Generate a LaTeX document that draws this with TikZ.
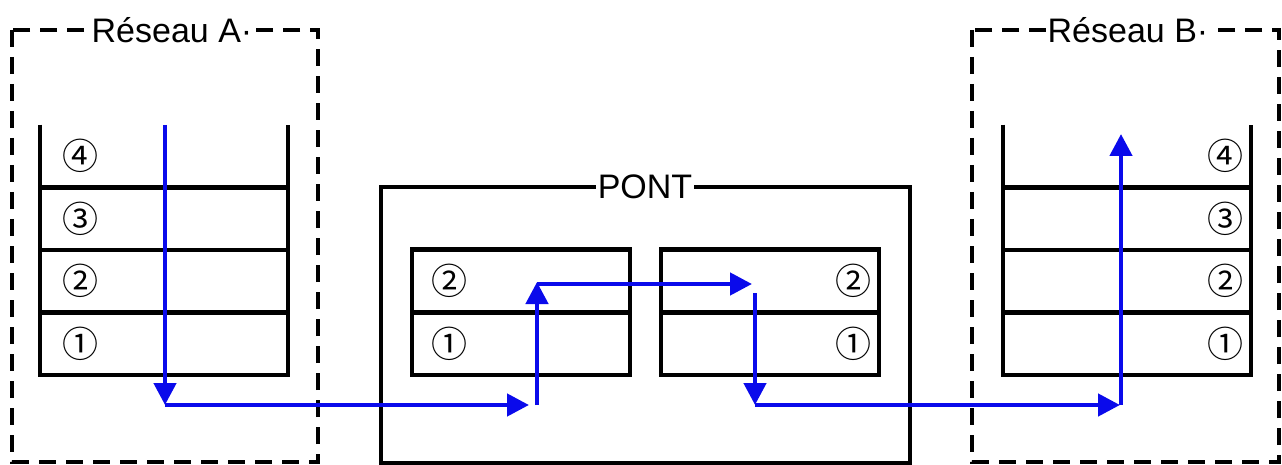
\documentclass[tikz,border=0pt]{standalone}
\usepackage{fontspec}
\setmainfont{Liberation Sans}
\newfontfamily\circfont{Noto Sans CJK SC}
\usetikzlibrary{arrows.meta}
\begin{document}
\begin{tikzpicture}[x=1pt,y=-1pt,
  netbox/.style={line width=4.5pt, dash pattern=on 17pt off 10pt},
  layerline/.style={line width=4.5pt},
  pontline/.style={line width=3.5pt},
  flow/.style={draw={rgb,255:red,10;green,10;blue,235}, line width=4.5pt, -{Triangle[length=22pt,width=22pt]}},
  titletext/.style={fill=white, inner sep=2pt, font=\fontsize{34}{38}\selectfont},
  num/.style={font=\circfont\fontsize{36}{38}\selectfont, inner sep=0pt},
  layer/.style={minimum width=248pt, minimum height=62.5pt, inner sep=0pt},
  sublayer/.style={minimum width=218pt, minimum height=62.5pt, inner sep=0pt}
]
\useasboundingbox (0,0) rectangle (1282,465);

% Reseau A
\draw[netbox] (12,30) rectangle (318,462);
\node[titletext] (tA) at (172,30) {Réseau A·};
\node[layer] (A4) at (164,156) {};
\node[layer] (A3) at (164,218.5) {};
\node[layer] (A2) at (164,281) {};
\node[layer] (A1) at (164,343.5) {};
\draw[layerline] (A4.north west) -- (A1.south west) -- (A1.south east) -- (A4.north east);
\draw[layerline] (A4.south west) -- (A4.south east);
\draw[layerline] (A3.south west) -- (A3.south east);
\draw[layerline] (A2.south west) -- (A2.south east);
\node[num] (nA4) at ([xshift=41pt]A4.west) {④};
\node[num] (nA3) at ([xshift=41pt]A3.west) {③};
\node[num] (nA2) at ([xshift=41pt]A2.west) {②};
\node[num] (nA1) at ([xshift=41pt]A1.west) {①};

% Reseau B
\draw[netbox] (972,30) rectangle (1279,462);
\node[titletext] (tB) at (1128,30) {Réseau B·};
\node[layer] (B4) at (1127,156) {};
\node[layer] (B3) at (1127,218.5) {};
\node[layer] (B2) at (1127,281) {};
\node[layer] (B1) at (1127,343.5) {};
\draw[layerline] (B4.north west) -- (B1.south west) -- (B1.south east) -- (B4.north east);
\draw[layerline] (B4.south west) -- (B4.south east);
\draw[layerline] (B3.south west) -- (B3.south east);
\draw[layerline] (B2.south west) -- (B2.south east);
\node[num] (nB4) at ([xshift=-26pt]B4.east) {④};
\node[num] (nB3) at ([xshift=-26pt]B3.east) {③};
\node[num] (nB2) at ([xshift=-26pt]B2.east) {②};
\node[num] (nB1) at ([xshift=-26pt]B1.east) {①};

% PONT
\draw[pontline] (381,187) rectangle (910,463);
\node[titletext] (tP) at (645,187) {PONT};
\node[sublayer] (L2) at (521,281) {};
\node[sublayer] (L1) at (521,343.5) {};
\node[sublayer] (R2) at (770,281) {};
\node[sublayer] (R1) at (770,343.5) {};
\draw[layerline] (L2.north west) rectangle (L1.south east);
\draw[layerline] (L2.south west) -- (L2.south east);
\draw[layerline] (R2.north west) rectangle (R1.south east);
\draw[layerline] (R2.south west) -- (R2.south east);
\node[num] (nL2) at ([xshift=38pt]L2.west) {②};
\node[num] (nL1) at ([xshift=38pt]L1.west) {①};
\node[num] (nR2) at ([xshift=-26pt]R2.east) {②};
\node[num] (nR1) at ([xshift=-26pt]R1.east) {①};

% flow
\coordinate (p1) at (165,125);
\coordinate (p2) at (165,405);
\coordinate (p3) at (529,405);
\coordinate (p4) at (537,405);
\coordinate (p5) at (537,282);
\coordinate (p6) at (537,284);
\coordinate (p7) at (752,284);
\coordinate (p8) at (755,293);
\coordinate (p9) at (755,405);
\coordinate (p10) at (1120,405);
\coordinate (p11) at (1121,405);
\coordinate (p12) at (1121,134);
\draw[flow] (p1) -- (p2);
\draw[flow] (p2) -- (p3);
\draw[flow] (p4) -- (p5);
\draw[flow] (p6) -- (p7);
\draw[flow] (p8) -- (p9);
\draw[flow] (p9) -- (p10);
\draw[flow] (p11) -- (p12);
\end{tikzpicture}
\end{document}
